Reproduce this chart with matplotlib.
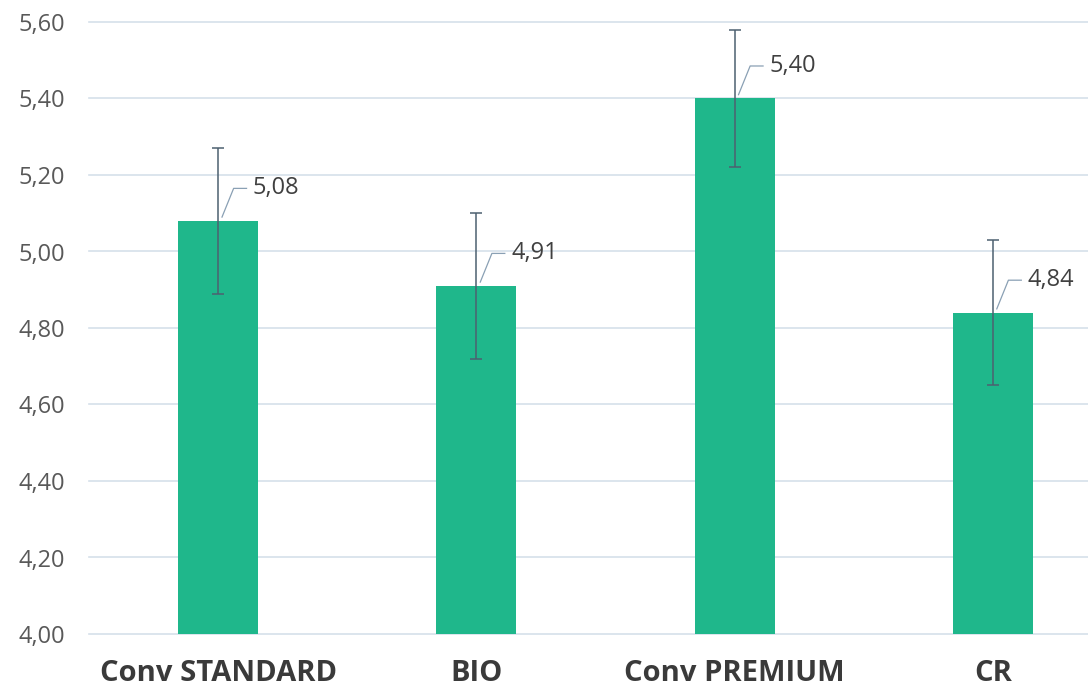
import numpy as np
import matplotlib.pyplot as plt

# datos
categorias = ['Conv STANDARD', 'BIO', 'Conv PREMIUM', 'CR']
valores = [5.08, 4.91, 5.40, 4.84]
errores = [0.19, 0.19, 0.18, 0.19]
etiquetas = ['5,08', '4,91', '5,40', '4,84']
yticks = [4.0, 4.2, 4.4, 4.6, 4.8, 5.0, 5.2, 5.4, 5.6]

plt.rcParams['font.family'] = ['Open Sans', 'DejaVu Sans']

fig = plt.figure(figsize=(10.88, 6.95), dpi=100)
ax = fig.add_axes([89 / 1088, 61 / 695, 999 / 1088, 612 / 695])

x = np.arange(len(categorias))
ax.bar(x, valores, width=0.31, color='#1fb78b', zorder=2)
ax.errorbar(x, valores, yerr=errores, fmt='none', ecolor='#4d6070',
            elinewidth=1.1, capsize=4, capthick=1.1, zorder=3)

# etiquetas con linea guia
for xi, v, lab in zip(x, valores, etiquetas):
    ax.plot([xi + 0.015, xi + 0.06, xi + 0.11], [v + 0.01, v + 0.085, v + 0.085],
            color='#8aa0b4', lw=0.9, zorder=4)
    ax.text(xi + 0.135, v + 0.085, lab, ha='left', va='center',
            fontsize=17, color='#404040', zorder=5)

ax.set_ylim(4.0, 5.6)
ax.set_xlim(-0.5, 3.5 - 34 / 258)
ax.set_yticks(yticks)
ax.set_yticklabels([f'{t:.2f}'.replace('.', ',') for t in yticks])
ax.set_xticks(x)
ax.set_xticklabels(categorias, fontsize=21, fontweight='bold', color='#3a3a3a')
ax.tick_params(axis='y', length=0, pad=17, labelsize=17, labelcolor='#595959')
ax.tick_params(axis='x', length=0, pad=18)

for t in yticks:
    ax.axhline(t, color='#d6e0ea', lw=1.2, zorder=1, clip_on=False)
for s in ax.spines.values():
    s.set_visible(False)

fig.savefig('out.png', dpi=100)
